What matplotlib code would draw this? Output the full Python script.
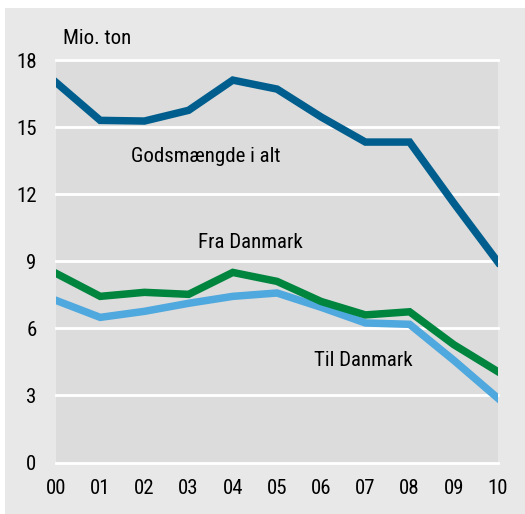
import matplotlib
matplotlib.use("Agg")
import matplotlib.pyplot as plt
from matplotlib.patches import Rectangle
from matplotlib import font_manager

years = ["00", "01", "02", "03", "04", "05", "06", "07", "08", "09", "10"]
total = [17.0, 15.3, 15.27, 15.75, 17.1, 16.7, 15.45, 14.33, 14.33, 11.6, 8.96]
fra_dk = [8.46, 7.43, 7.61, 7.52, 8.5, 8.1, 7.2, 6.6, 6.74, 5.27, 4.06]
til_dk = [7.25, 6.49, 6.76, 7.12, 7.43, 7.58, 6.94, 6.24, 6.18, 4.57, 2.87]
yticks = [0, 3, 6, 9, 12, 15, 18]

names = {f.name for f in font_manager.fontManager.ttflist}
fam = [f for f in ["Liberation Sans Narrow", "Roboto Condensed", "Open Sans Condensed", "Liberation Sans"] if f in names]
plt.rcParams['font.family'] = fam + ['DejaVu Sans']

W, H = 525, 514
fig = plt.figure(figsize=(W / 100, H / 100), dpi=100, facecolor="white")
fig.patches.append(Rectangle((5 / W, 0), 1, (H - 8) / H, transform=fig.transFigure,
                             facecolor="#e8e8e8", edgecolor="none", zorder=-10))

ax = fig.add_axes([56 / W, 1 - 462.5 / H, (498 - 56) / W, (462.5 - 60) / H])
ax.set_zorder(1)
ax.set_facecolor("#dcdcdc")
x = list(range(len(years)))
ax.plot(x, total, color="#005e8e", lw=5.4, solid_joinstyle="miter", zorder=3)
ax.plot(x, fra_dk, color="#00853f", lw=5.4, solid_joinstyle="miter", zorder=3)
ax.plot(x, til_dk, color="#4fa8de", lw=5.4, solid_joinstyle="miter", zorder=2)

ax.set_xlim(0, 10)
ax.set_ylim(0, 18)
ax.set_yticks(yticks)
ax.set_xticks(x)
ax.set_xticklabels(years)
for y in yticks:
    ax.axhline(y, color="white", lw=2, zorder=1, clip_on=False)
for s in ax.spines.values():
    s.set_visible(False)
ax.tick_params(length=0, labelsize=15, colors="black")
ax.tick_params(axis="y", pad=14)
ax.tick_params(axis="x", pad=12)

fs = 15
def px(xp, yp):
    return ((xp - 56) / (498 - 56), (462.5 - yp) / (462.5 - 60))
ax.text(*px(63, 38), "Mio. ton", transform=ax.transAxes, fontsize=fs, ha="left", va="center", clip_on=False)
ax.text(*px(206, 157), "Godsmængde i alt", transform=ax.transAxes, fontsize=fs, ha="center", va="center")
ax.text(*px(250, 243), "Fra Danmark", transform=ax.transAxes, fontsize=fs, ha="center", va="center")
ax.text(*px(363, 360), "Til Danmark", transform=ax.transAxes, fontsize=fs, ha="center", va="center")

fig.savefig("out.png", dpi=100, facecolor="white")
